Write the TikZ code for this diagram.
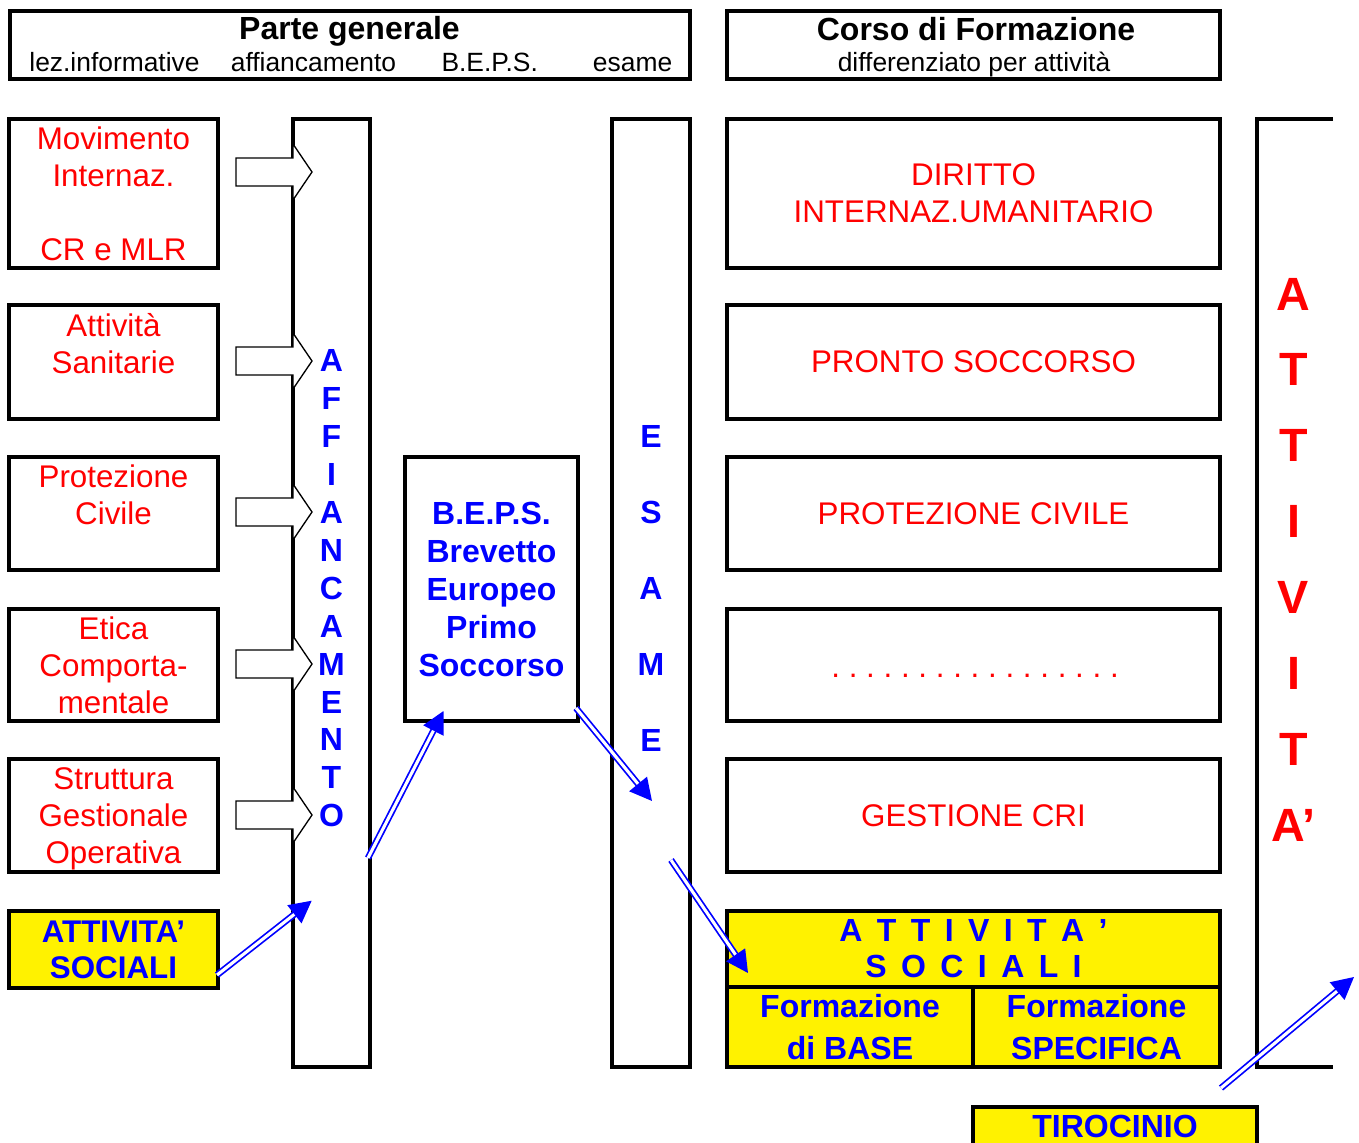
\documentclass[tikz,border=0pt]{standalone}
\usepackage{fontspec}
\setmainfont{Liberation Sans}
\usetikzlibrary{arrows.meta}
\newcommand\gapk{\kern.45em}
\tikzset{
  blockarr/.pic={\draw[line width=1pt, fill=white] (0,-14) -- (57,-14) -- (57,-28) -- (76,0) -- (57,28) -- (57,14) -- (0,14) -- cycle;},
  sz/.style 2 args={minimum width=#1, minimum height=#2}
}
\begin{document}
\begin{tikzpicture}[x=0.75pt, y=-0.75pt,
  box/.style={draw, line width=2.4pt, inner sep=0pt},
  ybox/.style={box, fill=yellow},
  rtxt/.style={text=red, align=center, font=\fontsize{23.5}{27.75}\selectfont},
  btxt/.style={text=blue, align=center, font=\bfseries\fontsize{24}{28.5}\selectfont},
  htitle/.style={font=\bfseries\fontsize{24}{28}\selectfont, anchor=base, inner sep=0pt},
  hsub/.style={font=\fontsize{19.8}{24}\selectfont, anchor=base, inner sep=0pt},
  dbl/.style={draw=blue, line width=1.3pt, double=white, double distance=2.3pt, -{Triangle[length=16.5pt,width=17pt]}}
]
\fill[white] (0,0) rectangle (1359,1142);
\useasboundingbox (0,0) rectangle (1359,1142);

% headers
\node[box, sz={510pt}{51pt}] (hL) at (350,45) {};
\node[box, sz={369.75pt}{51pt}] (hR) at (973.5,45) {};
\node[htitle] (tL) at (349.5,39) {Parte generale};
\node[hsub] (s1) at (114.5,71) {lez.informative};
\node[hsub] (s2) at (313.5,71) {affiancamento};
\node[hsub] (s3) at (489.7,71) {B.E.P.S.};
\node[hsub] (s4) at (632.6,71) {esame};
\node[htitle] (tR) at (976,40) {Corso di Formazione};
\node[hsub] (s5) at (974,71.5) {differenziato per attività};

% left boxes
\node[box, rtxt, sz={156.75pt}{111.75pt}] (l1) at (113.5,193.5) {Movimento\\Internaz.\\[27.75pt]CR e MLR};
\node[box, rtxt, sz={156.75pt}{85.5pt}] (l2) at (113.5,362) {Attività\\Sanitarie\\\mbox{}};
\node[box, rtxt, sz={156.75pt}{84.75pt}] (l3) at (113.5,513.5) {Protezione\\Civile\\\mbox{}};
\node[box, rtxt, sz={156.75pt}{84pt}] (l4) at (113.5,665) {Etica\\Comporta-\\mentale};
\node[box, rtxt, sz={156.75pt}{84.75pt}] (l5) at (113.5,815.5) {Struttura\\Gestionale\\\raisebox{0pt}[\height][0pt]{Operativa}};
\node[ybox, btxt, font=\bfseries\fontsize{23.5}{27}\selectfont, sz={156.75pt}{57.75pt}] (l6) at (113.5,949.5) {ATTIVITA’\\SOCIALI};

% columns
\node[box, sz={57.75pt}{711pt}] (aff) at (331.5,593) {};
\node[btxt, font=\bfseries\fontsize{24}{28.43}\selectfont] (affT) at (331.5,588.5) {A\\F\\F\\I\\A\\N\\C\\A\\M\\E\\N\\T\\O};
\node[box, btxt, sz={129.75pt}{198pt}] (beps) at (491.5,589) {B.E.P.S.\\Brevetto\\Europeo\\Primo\\Soccorso};
\node[box, sz={58.5pt}{711pt}] (esa) at (651,593) {};
\node[btxt, font=\bfseries\fontsize{24}{56.85}\selectfont] (esaT) at (651,588.5) {E\\S\\A\\M\\E};

% right boxes
\node[box, rtxt, sz={369.75pt}{111.75pt}] (r1) at (973.5,193.5) {DIRITTO\\INTERNAZ.UMANITARIO};
\node[box, rtxt, sz={369.75pt}{85.5pt}] (r2) at (973.5,362) {PRONTO SOCCORSO};
\node[box, rtxt, sz={369.75pt}{84.75pt}] (r3) at (973.5,513.5) {PROTEZIONE CIVILE};
\node[box, sz={369.75pt}{84pt}] (r4) at (973.5,665) {};
\node[text=red, anchor=base, inner sep=0pt, font=\frenchspacing\fontsize{23.5}{27.75}\selectfont] (dots) at (975,677) {. . . . . . . . . . . . . . . . .};
\node[box, rtxt, sz={369.75pt}{84.75pt}] (r5) at (973.5,815.5) {GESTIONE CRI};
\node[ybox, btxt, font=\bfseries\fontsize{24}{27}\selectfont, sz={369.75pt}{57pt}] (r6) at (973.5,949) {A\gapk T\gapk T\gapk I\gapk V\gapk I\gapk T\gapk A\gapk ’\\S\gapk O\gapk C\gapk I\gapk A\gapk L\gapk I};
\node[ybox, btxt, font=\bfseries\fontsize{24}{31.5}\selectfont, sz={184.5pt}{60pt}] (r7) at (850,1027) {Formazione\\di BASE};
\node[ybox, btxt, font=\bfseries\fontsize{24}{31.5}\selectfont, sz={185.25pt}{60pt}] (r8) at (1096.5,1027) {Formazione\\SPECIFICA};

% right open column
\coordinate (rcTop) at (1333,119);
\coordinate (rcTL) at (1257,119);
\coordinate (rcBL) at (1257,1067);
\coordinate (rcBot) at (1333,1067);
\draw[line width=2.4pt] (rcTop) -- (rcTL) -- (rcBL) -- (rcBot);
\node[text=red, align=center, font=\bfseries\fontsize{35}{56.9}\selectfont] (attT) at (1293.5,559.5) {A\\T\\T\\I\\V\\I\\T\\A’};

\node[ybox, btxt, sz={213pt}{29.25pt}] (tir) at (1115,1126.5) {TIROCINIO};

% block arrows
\pic at (236,172) {blockarr};
\pic at (236,361) {blockarr};
\pic at (236,512) {blockarr};
\pic at (236,664) {blockarr};
\pic at (236,815) {blockarr};

% blue double arrows
\coordinate (a1s) at (217,975);   \coordinate (a1e) at (311.7,900.7);
\coordinate (a2s) at (368,858);   \coordinate (a2e) at (443.5,711);
\coordinate (a3s) at (576,708);   \coordinate (a3e) at (652,801);
\coordinate (a4s) at (671,860);   \coordinate (a4e) at (748,973);
\coordinate (a5s) at (1221,1088); \coordinate (a5e) at (1354,977);
\draw[dbl] (a1s) -- (a1e);
\draw[dbl] (a2s) -- (a2e);
\draw[dbl] (a3s) -- (a3e);
\draw[dbl] (a4s) -- (a4e);
\draw[dbl] (a5s) -- (a5e);
\end{tikzpicture}
\end{document}
